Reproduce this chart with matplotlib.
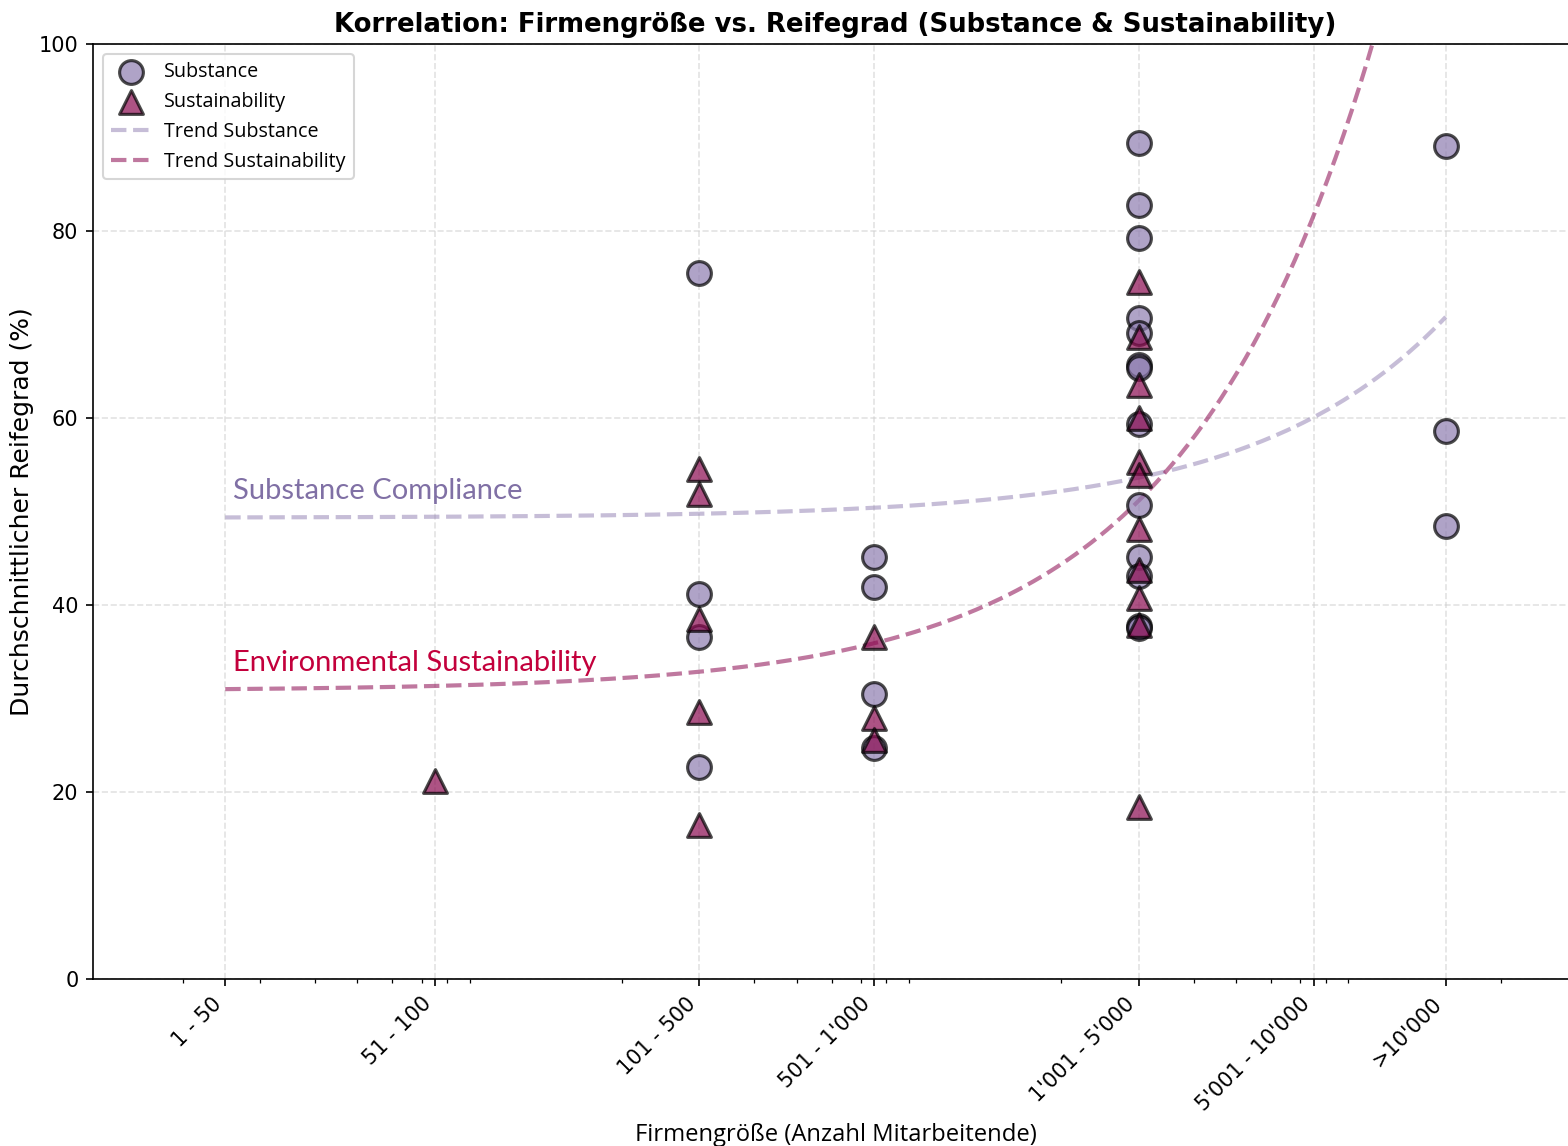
"""Firmengröße vs. Reifegrad: Streudiagramm mit linearen Trends."""

import matplotlib.pyplot as plt
import numpy as np

# Größenklassen (Mitte der Klasse, log-Achse) und Beschriftungen
size_pos = [25, 75, 300, 750, 3000, 7500, 15000]
size_labels = ["1 - 50", "51 - 100", "101 - 500", "501 - 1'000",
               "1'001 - 5'000", "5'001 - 10'000", ">10'000"]

# Reifegrad Substance je Firma
subst_x = [300, 300, 300, 300,
           750, 750, 750, 750,
           3000, 3000, 3000, 3000, 3000, 3000, 3000, 3000, 3000, 3000,
           3000, 3000, 3000,
           15000, 15000, 15000]
subst_y = [75.5, 41.2, 36.6, 22.7,
           45.1, 41.9, 30.5, 24.7,
           89.4, 82.8, 79.3, 70.7, 69.1, 65.7, 65.3, 59.4, 50.7, 45.1,
           43.1, 37.8, 37.5,
           89.1, 58.6, 48.4]

# Reifegrad Sustainability je Firma
sust_x = [75,
          300, 300, 300, 300, 300,
          750, 750, 750,
          3000, 3000, 3000, 3000, 3000, 3000, 3000, 3000, 3000, 3000, 3000]
sust_y = [21.2,
          54.5, 51.9, 38.5, 28.6, 16.5,
          36.6, 27.9, 25.6,
          74.5, 68.7, 63.5, 60.0, 55.3, 53.9, 48.1, 43.7, 40.7, 37.9, 18.4]

c_subst = "#8e7cb0"
c_sust = "#8b0a50"

fig = plt.figure(figsize=(1568 / 150, 1146 / 150), dpi=150)
ax = fig.add_axes([93 / 1568, 1 - 979 / 1146, 1485 / 1568, 935 / 1146])

ax.scatter(subst_x, subst_y, s=130, marker="o", color=c_subst, alpha=0.7,
           edgecolors="black", linewidths=1.5, label="Substance", zorder=3)
ax.scatter(sust_x, sust_y, s=130, marker="^", color=c_sust, alpha=0.7,
           edgecolors="black", linewidths=1.5, label="Sustainability",
           zorder=3)

# lineare Trends (in x linear gefittet, auf log-Achse gezeichnet)
xs = np.logspace(np.log10(min(size_pos)), np.log10(max(size_pos)), 300)
p_subst = np.polyfit(subst_x, subst_y, 1)
p_sust = np.polyfit(sust_x, sust_y, 1)
ax.plot(xs, np.polyval(p_subst, xs), "--", color=c_subst, alpha=0.5, lw=2,
        label="Trend Substance", zorder=2)
ax.plot(xs, np.polyval(p_sust, xs), "--", color=c_sust, alpha=0.55, lw=2,
        label="Trend Sustainability", zorder=2)

ax.text(26, np.polyval(p_subst, 25) + 1.4, "Substance Compliance",
        color="#8070a5", fontsize=14, family="Lato", va="bottom")
ax.text(26, np.polyval(p_sust, 25) + 1.4, "Environmental Sustainability",
        color="#c3003c", fontsize=14, family="Lato", va="bottom")

ax.set_xscale("log")
ax.set_xlim(12.5, 30000)
ax.set_ylim(0, 100)
ax.set_xticks(size_pos)
ax.set_xticklabels(size_labels, rotation=45, ha="right", fontsize=10)
ax.set_yticks([0, 20, 40, 60, 80, 100])
ax.tick_params(axis="y", labelsize=10)
ax.grid(True, which="major", linestyle="--", color="#d0d0d0", alpha=0.6,
        lw=0.8)

ax.set_title("Korrelation: Firmengröße vs. Reifegrad (Substance & Sustainability)",
             fontsize=12.5, fontweight="bold", pad=6)
ax.set_xlabel("Firmengröße (Anzahl Mitarbeitende)", fontsize=11.4,
              family="Open Sans")
ax.set_ylabel("Durchschnittlicher Reifegrad (%)", fontsize=12, labelpad=2)

ax.legend(loc="upper left", prop={"family": "Open Sans", "size": 9.5},
          handletextpad=0.7)

fig.savefig("out.png", dpi=150)
